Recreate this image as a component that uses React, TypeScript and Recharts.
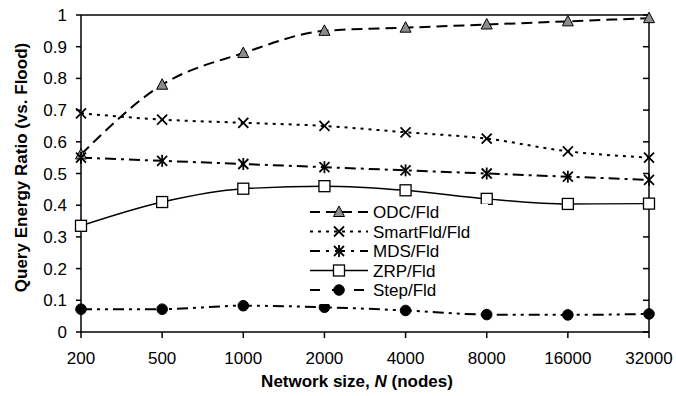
import React from 'react';
import { LineChart, Line, XAxis, YAxis, ReferenceLine } from 'recharts';

const categories = ['200', '500', '1000', '2000', '4000', '8000', '16000', '32000'];
const odc = [0.56, 0.78, 0.88, 0.95, 0.96, 0.97, 0.98, 0.99];
const smartFld = [0.69, 0.67, 0.66, 0.65, 0.63, 0.61, 0.57, 0.55];
const mds = [0.55, 0.54, 0.53, 0.52, 0.51, 0.50, 0.49, 0.48];
const zrp = [0.335, 0.41, 0.452, 0.46, 0.447, 0.42, 0.404, 0.405];
const step = [0.072, 0.072, 0.083, 0.078, 0.068, 0.055, 0.054, 0.057];
const yTicks = [0, 0.1, 0.2, 0.3, 0.4, 0.5, 0.6, 0.7, 0.8, 0.9, 1];

const data = categories.map((c, i) => ({
  n: c,
  odc: odc[i],
  smart: smartFld[i],
  mds: mds[i],
  zrp: zrp[i],
  step: step[i],
}));

const FONT = '"Liberation Sans", Arial, sans-serif';

type MarkerKind = 'tri' | 'x' | 'star' | 'sq' | 'circle';

const Marker = ({ kind, cx, cy }: { kind: MarkerKind; cx: number; cy: number }) => {
  if (cx == null || cy == null) return null;
  switch (kind) {
    case 'tri':
      return (
        <polygon
          points={`${cx},${cy - 6} ${cx + 5.5},${cy + 4.5} ${cx - 5.5},${cy + 4.5}`}
          fill="#8c8c8c"
          stroke="#000"
          strokeWidth={1}
        />
      );
    case 'x':
      return (
        <g stroke="#000" strokeWidth={1.8}>
          <line x1={cx - 5} y1={cy - 5} x2={cx + 5} y2={cy + 5} />
          <line x1={cx - 5} y1={cy + 5} x2={cx + 5} y2={cy - 5} />
        </g>
      );
    case 'star':
      return (
        <g stroke="#000" strokeWidth={1.8}>
          <line x1={cx - 5} y1={cy - 5} x2={cx + 5} y2={cy + 5} />
          <line x1={cx - 5} y1={cy + 5} x2={cx + 5} y2={cy - 5} />
          <line x1={cx} y1={cy - 6} x2={cx} y2={cy + 6} />
        </g>
      );
    case 'sq':
      return <rect x={cx - 5.5} y={cy - 5.5} width={11} height={11} fill="#fff" stroke="#000" strokeWidth={1.3} />;
    case 'circle':
      return <circle cx={cx} cy={cy} r={5.3} fill="#000" stroke="#000" />;
  }
  return null;
};

const mkDot = (kind: MarkerKind) => (props: any) => (
  <Marker key={`${kind}-${props.index}`} kind={kind} cx={props.cx} cy={props.cy} />
);

const series = [
  { key: 'odc', name: 'ODC/Fld', kind: 'tri' as MarkerKind, dash: '11 6', width: 2, axis: 'l' },
  { key: 'smart', name: 'SmartFld/Fld', kind: 'x' as MarkerKind, dash: '3 5', width: 2, axis: 'l' },
  { key: 'mds', name: 'MDS/Fld', kind: 'star' as MarkerKind, dash: '11 5 3 5', width: 2, axis: 'l' },
  { key: 'zrp', name: 'ZRP/Fld', kind: 'sq' as MarkerKind, dash: undefined, width: 1.4, axis: 'l' },
  { key: 'step', name: 'Step/Fld', kind: 'circle' as MarkerKind, dash: '11 5 3 5 3 5', width: 2, axis: 'r' },
];

const legendDash = ['10 6', '3 5', '10 6 3 6', undefined, '10 12'];

const LegendBox = () => (
  <svg
    width={180}
    height={100}
    style={{ position: 'absolute', left: 308, top: 204, overflow: 'visible', background: '#fff' }}
  >
    {series.map((s, i) => {
      const y = 8 + i * 19.5;
      return (
        <g key={s.key}>
          <line x1={2} y1={y} x2={60} y2={y} stroke="#000" strokeWidth={s.width} strokeDasharray={legendDash[i]} />
          <Marker kind={s.kind} cx={31} cy={y} />
          <text x={65} y={y + 6} fontFamily={FONT} fontSize={17} fill="#000">
            {s.name}
          </text>
        </g>
      );
    })}
  </svg>
);

const YLabel = (props: any) => {
  const vb = props.viewBox || {};
  const cy = (vb.y ?? 15) + (vb.height ?? 317) / 2 - 6;
  return (
    <text
      x={0}
      y={0}
      transform={`translate(21, ${cy}) rotate(-90)`}
      textAnchor="middle"
      dominantBaseline="central"
      fontFamily={FONT}
      fontSize={17}
      fontWeight="bold"
      fill="#000"
    >
      Query Energy Ratio (vs. Flood)
    </text>
  );
};

const XLabel = () => (
  <text x={357} y={387} textAnchor="middle" fontFamily={FONT} fontSize={17} fontWeight="bold" fill="#000">
    Network size, <tspan fontStyle="italic">N</tspan> (nodes)
  </text>
);

export default function App() {
  return (
    <div style={{ position: 'absolute', left: 0, top: 0, width: 676, height: 396, background: '#fff' }}>
      <LineChart width={676} height={396} data={data} margin={{ top: 15, right: 27, bottom: 0, left: 0 }}>
        <XAxis
          dataKey="n"
          height={64}
          stroke="#000"
          strokeWidth={1.5}
          tickSize={6}
          tickMargin={14}
          tick={{ fill: '#000', fontFamily: FONT, fontSize: 17 }}
          interval={0}
          label={<XLabel />}
        />
        <YAxis
          yAxisId="l"
          width={81}
          domain={[0, 1]}
          ticks={yTicks}
          interval={0}
          stroke="#000"
          strokeWidth={1.5}
          tickSize={5}
          tickMargin={9}
          tick={{ fill: '#000', fontFamily: FONT, fontSize: 17 }}
          tickFormatter={(v: number) => String(v)}
          label={<YLabel />}
        />
        <YAxis
          yAxisId="r"
          orientation="right"
          mirror
          width={1}
          domain={[0, 1]}
          ticks={yTicks}
          interval={0}
          stroke="#000"
          strokeWidth={1.5}
          tickLine={{ stroke: '#000', strokeWidth: 1.5 }}
          tickSize={6}
          tick={{ fontSize: 1, fill: 'none' }}
          tickFormatter={() => ' '}
        />
        <ReferenceLine yAxisId="l" y={1} stroke="#000" strokeWidth={1.5} />
        {series.map((s) => (
          <Line
            key={s.key}
            yAxisId={s.axis}
            type="monotone"
            dataKey={s.key}
            name={s.name}
            stroke="#000"
            strokeWidth={s.width}
            strokeDasharray={s.dash}
            dot={mkDot(s.kind)}
            activeDot={false}
            isAnimationActive={false}
          />
        ))}
      </LineChart>
      <LegendBox />
    </div>
  );
}
